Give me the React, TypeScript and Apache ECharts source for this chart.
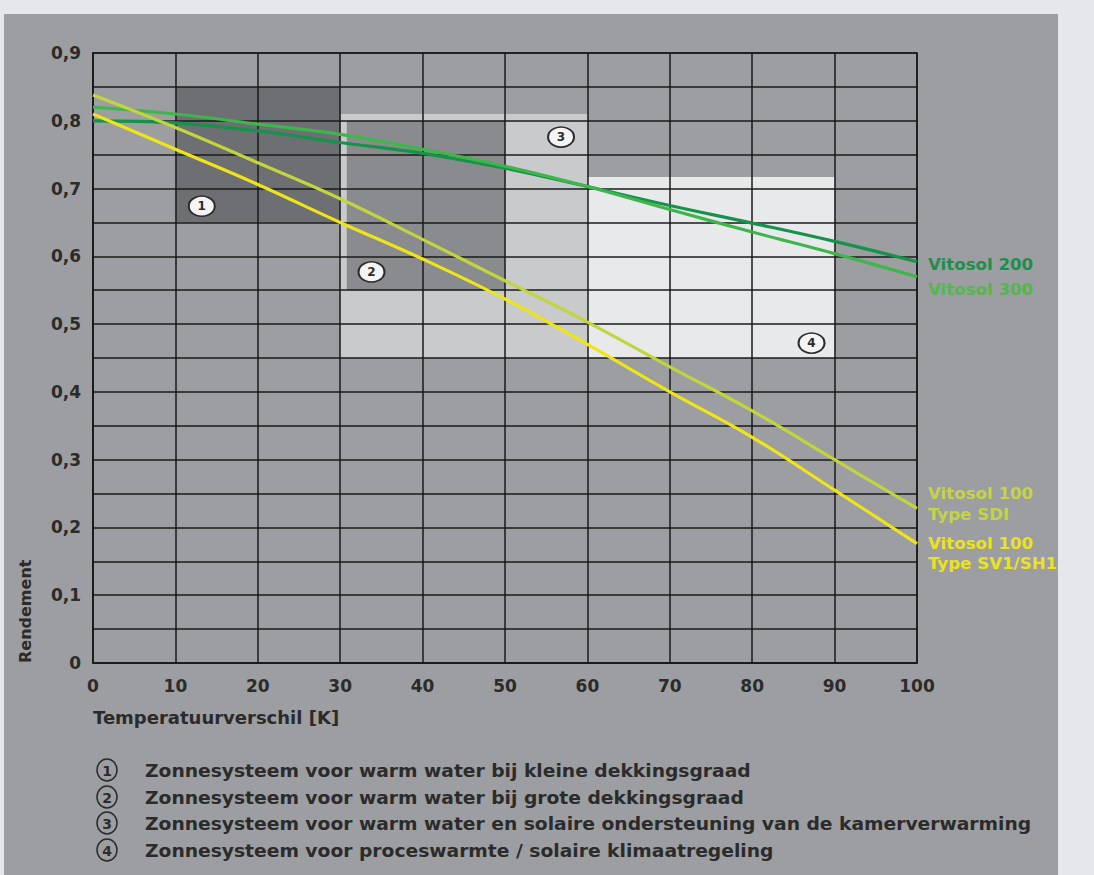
import React, { useEffect, useRef } from "react";
import * as echarts from "echarts";

// ---- data ----
const xValues = [0, 10, 20, 30, 40, 50, 60, 70, 80, 90, 100];
const vitosol200 = [0.8, 0.797, 0.785, 0.768, 0.752, 0.73, 0.703, 0.675, 0.649, 0.622, 0.592];
const vitosol300 = [0.82, 0.81, 0.795, 0.78, 0.758, 0.733, 0.703, 0.669, 0.636, 0.604, 0.57];
const vitosol100SDI = [0.838, 0.79, 0.738, 0.685, 0.625, 0.564, 0.503, 0.437, 0.372, 0.3, 0.228];
const vitosol100SV1 = [0.81, 0.758, 0.706, 0.65, 0.596, 0.537, 0.47, 0.4, 0.333, 0.255, 0.176];

// regions: [xStart, yStart, xEnd, yEnd]
const region1 = [10, 0.65, 30, 0.85];
const region3 = [30, 0.45, 60, 0.81];
const region2 = [30.8, 0.55, 50, 0.8];
const region4 = [60, 0.45, 90, 0.717];

// region marker positions [x, y, label]
const regionMarkers: [number, number, string][] = [
  [13.2, 0.674, "1"],
  [33.8, 0.577, "2"],
  [56.8, 0.776, "3"],
  [87.2, 0.472, "4"],
];

const legendLabels = [
  "Zonnesysteem voor warm water bij kleine dekkingsgraad",
  "Zonnesysteem voor warm water bij grote dekkingsgraad",
  "Zonnesysteem voor warm water en solaire ondersteuning van de kamerverwarming",
  "Zonnesysteem voor proceswarmte / solaire klimaatregeling",
];

const FONT = "DejaVu Sans";
const TXT = "#2b2b2b";

function App() {
  const ref = useRef<HTMLDivElement>(null);
  useEffect(() => {
    if (!ref.current) return;
    const chart = echarts.init(ref.current, null, { renderer: "svg" });
    const toPts = (arr: number[]) => xValues.map((x, i) => [x, arr[i]]);
    const area = (r: number[], color: string) => [
      { coord: [r[0], r[1]], itemStyle: { color } },
      { coord: [r[2], r[3]] },
    ];
    const lineSeries = (name: string, arr: number[], color: string) => ({
      name,
      type: "line",
      data: toPts(arr),
      smooth: 0.4,
      symbol: "none",
      lineStyle: { color, width: 3.2 },
      z: 4,
    });
    const legendGraphics: any[] = [];
    const rowsY = [770, 797, 823, 850];
    legendLabels.forEach((t, i) => {
      legendGraphics.push({
        type: "ellipse",
        shape: { cx: 107, cy: rowsY[i], rx: 10, ry: 11 },
        style: { fill: "none", stroke: TXT, lineWidth: 1.5 },
      });
      legendGraphics.push({
        type: "text",
        x: 107,
        y: rowsY[i] + 1,
        style: {
          text: String(i + 1),
          font: `bold 14px "${FONT}"`,
          fill: TXT,
          align: "center",
          verticalAlign: "middle",
        },
      });
      legendGraphics.push({
        type: "text",
        x: 145,
        y: rowsY[i] + 1,
        scaleX: 1.1,
        style: {
          text: t,
          font: `bold 17px "${FONT}"`,
          fill: TXT,
          verticalAlign: "middle",
        },
      });
    });
    const endLabels = [
      { t: "Vitosol 200", y: 265, c: "#1e8f4b" },
      { t: "Vitosol 300", y: 290, c: "#52b84c" },
      { t: "Vitosol 100", y: 494, c: "#c5d446" },
      { t: "Type SDI", y: 515, c: "#c5d446" },
      { t: "Vitosol 100", y: 544, c: "#ece31c" },
      { t: "Type SV1/SH1", y: 564, c: "#ece31c" },
    ];
    endLabels.forEach((l) => {
      legendGraphics.push({
        type: "text",
        x: 928,
        y: l.y,
        scaleX: 1.04,
        style: {
          text: l.t,
          font: `bold 16px "${FONT}"`,
          fill: l.c,
          verticalAlign: "middle",
        },
      });
    });

    chart.setOption({
      animation: false,
      backgroundColor: "transparent",
      grid: {
        left: 93,
        top: 53,
        right: 177,
        bottom: 212,
        show: true,
        borderColor: "#1a1a1a",
        borderWidth: 1.5,
        backgroundColor: "transparent",
      },
      xAxis: {
        type: "value",
        min: 0,
        max: 100,
        interval: 10,
        name: "Temperatuurverschil [K]",
        nameLocation: "start",
        nameGap: 0,
        nameTextStyle: {
          align: "left",
          verticalAlign: "top",
          padding: [45, 0, 0, 0],
          fontFamily: FONT,
          fontWeight: "bold",
          fontSize: 18,
          color: TXT,
        },
        axisLine: { show: true, lineStyle: { color: "#1a1a1a", width: 1.5 } },
        axisTick: { show: false },
        axisLabel: {
          margin: 14,
          fontFamily: FONT,
          fontWeight: "bold",
          fontSize: 17,
          color: TXT,
        },
        splitLine: { show: true, lineStyle: { color: "#1a1a1a", width: 1.5 } },
      },
      yAxis: {
        type: "value",
        min: 0,
        max: 0.9,
        interval: 0.1,
        name: "Rendement",
        nameLocation: "start",
        nameGap: 0,
        nameRotate: 90,
        nameTextStyle: {
          align: "left",
          verticalAlign: "bottom",
          padding: [0, 0, 60, 0],
          fontFamily: FONT,
          fontWeight: "bold",
          fontSize: 16,
          color: TXT,
        },
        axisLine: { show: true, lineStyle: { color: "#1a1a1a", width: 1.5 } },
        axisTick: { show: false },
        minorTick: { show: false, splitNumber: 2 },
        axisLabel: {
          margin: 12,
          fontFamily: FONT,
          fontWeight: "bold",
          fontSize: 17,
          color: TXT,
          formatter: (v: number) => (v === 0 ? "0" : v.toFixed(1).replace(".", ",")),
        },
        splitLine: { show: true, lineStyle: { color: "#1a1a1a", width: 1.5 } },
        minorSplitLine: { show: true, lineStyle: { color: "#1a1a1a", width: 1.5 } },
      },
      graphic: legendGraphics,
      series: [
        {
          name: "regions",
          type: "line",
          data: [],
          z: -5,
          silent: true,
          markArea: {
            silent: true,
            z: -5,
            data: [
              area(region3, "#c9cacc"),
              area(region2, "#8a8b8e"),
              area(region1, "#6e6f72"),
              area(region4, "#e8e9eb"),
            ],
          },
        },
        lineSeries("Vitosol 200", vitosol200, "#17924a"),
        lineSeries("Vitosol 300", vitosol300, "#3fb64b"),
        lineSeries("Vitosol 100 Type SDI", vitosol100SDI, "#c2d43e"),
        lineSeries("Vitosol 100 Type SV1/SH1", vitosol100SV1, "#ede51a"),
        {
          name: "markers",
          type: "scatter",
          data: regionMarkers.map((m) => [m[0], m[1], m[2]]),
          symbol: "circle",
          symbolSize: [26, 20],
          z: 6,
          itemStyle: { color: "#f4f4f4", borderColor: "#2b2b2b", borderWidth: 1.8, opacity: 1 },
          label: {
            show: true,
            position: "inside",
            formatter: (p: any) => p.value[2],
            fontFamily: FONT,
            fontWeight: "bold",
            fontSize: 12,
            color: TXT,
          },
        },
      ],
    });
    return () => chart.dispose();
  }, []);

  return (
    <div style={{ position: "fixed", left: 0, top: 0, width: 1094, height: 875, background: "#e5e7ea" }}>
      <div style={{ position: "absolute", left: 4, top: 14, width: 1054, height: 861, background: "#9c9ea1" }} />
      <div ref={ref} style={{ position: "absolute", left: 0, top: 0, width: 1094, height: 875 }} />
    </div>
  );
}

export default App;
